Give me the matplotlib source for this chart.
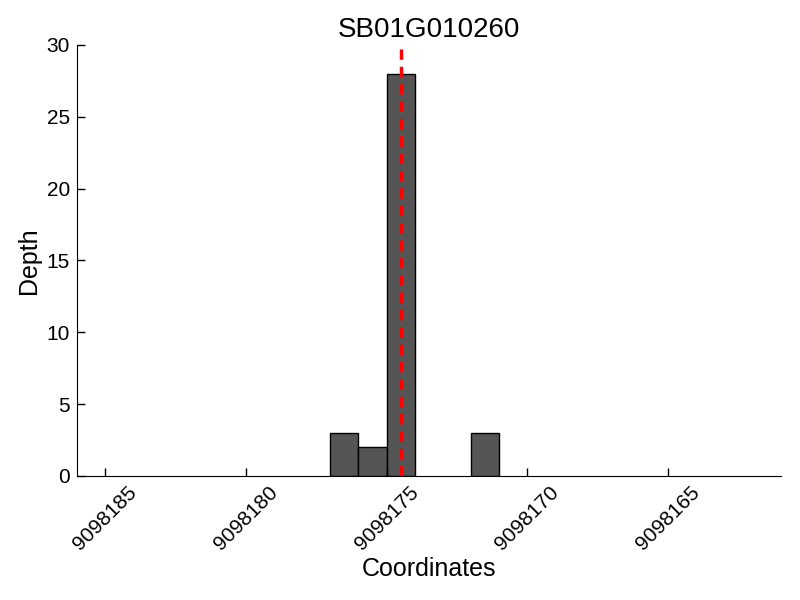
import matplotlib
matplotlib.use("Agg")
import matplotlib.pyplot as plt

plt.rcParams['font.family'] = ['Liberation Sans', 'DejaVu Sans']

title = "SB01G010260"
positions = [9098176.5, 9098175.5, 9098174.5, 9098171.5]
depths = [3, 2, 28, 3]
marker_pos = 9098174.5
xticks = [9098185, 9098180, 9098175, 9098170, 9098165]

fig = plt.figure(figsize=(8, 6), dpi=100)
ax = fig.add_axes([0.096, 0.207, 0.88, 0.718])
ax.bar(positions, depths, width=1.0, color='#555555', edgecolor='black', linewidth=1.0)
ax.plot([marker_pos, marker_pos], [0, 30], color='red', linestyle='--', linewidth=2.5, dashes=(3, 2))
ax.set_xlim(9098186, 9098161)
ax.set_ylim(0, 30)
ax.set_xticks(xticks)
ax.set_xticklabels([str(t) for t in xticks], rotation=45, ha='center', fontsize=15)
ax.set_yticks([0, 5, 10, 15, 20, 25, 30])
ax.tick_params(axis='y', labelsize=15)
ax.tick_params(direction='in', length=6, width=1, top=False, right=False, pad=5)
ax.spines['top'].set_visible(False)
ax.spines['right'].set_visible(False)
ax.set_xlabel("Coordinates", fontsize=18, labelpad=2)
ax.set_ylabel("Depth", fontsize=18, labelpad=4)
ax.set_title(title, fontsize=20, pad=6)
fig.savefig("out.png", dpi=100)
